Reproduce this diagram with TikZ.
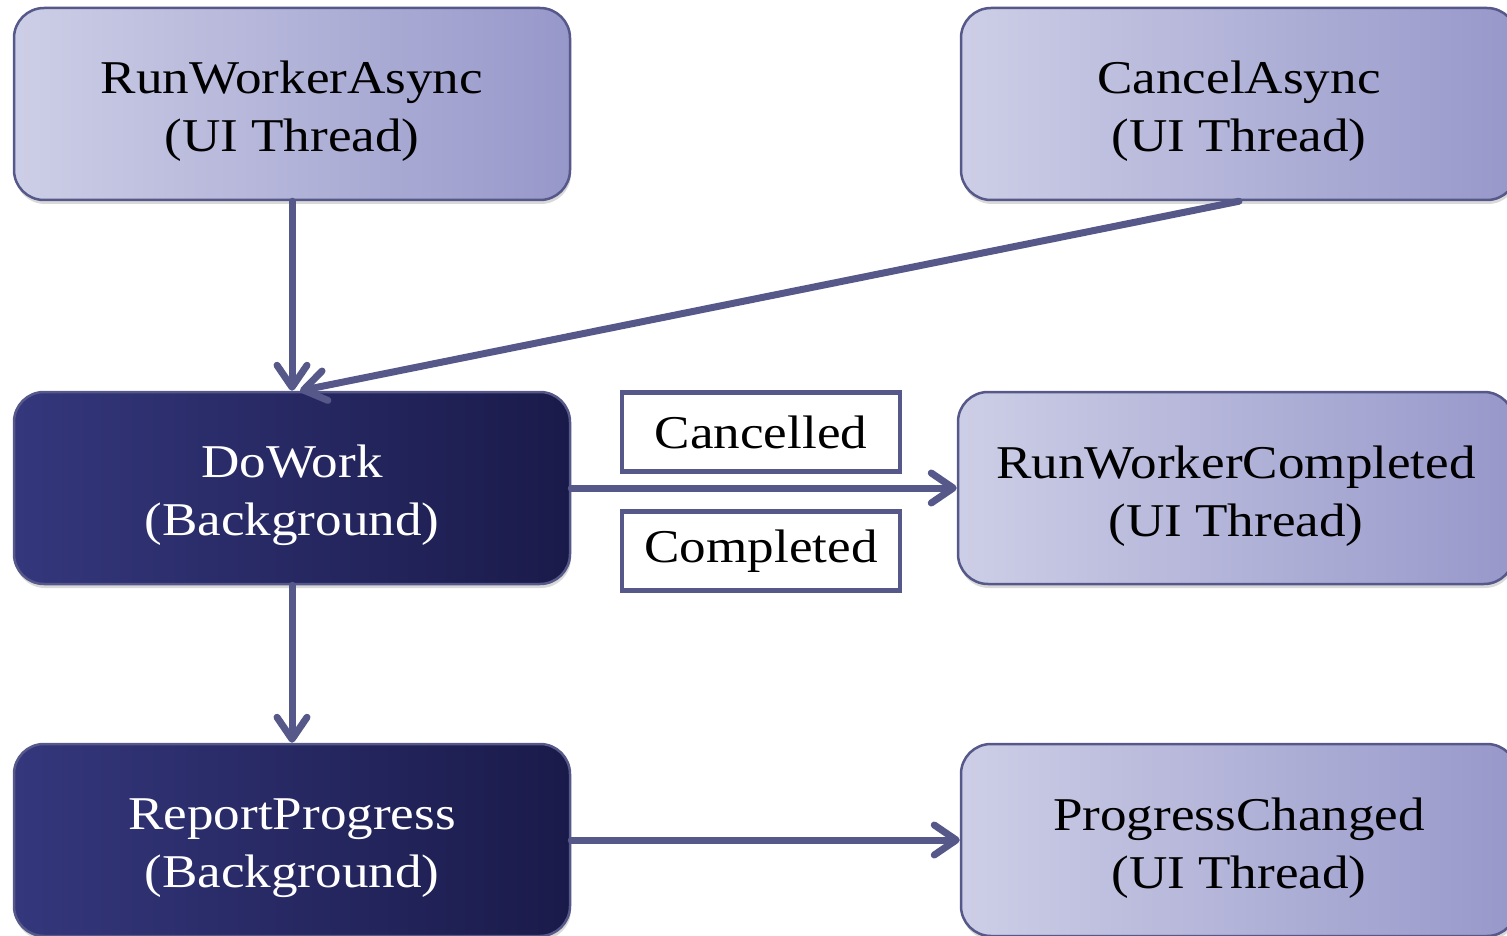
\documentclass[tikz,border=0pt]{standalone}
\usepackage{fontspec}
\setmainfont{Liberation Serif}[FakeStretch=1.13]
\usetikzlibrary{arrows.meta,shadows}
\newcommand\lowerstrut{\rule{0pt}{48pt}}
\definecolor{edgec}{HTML}{555889}
\definecolor{lightL}{HTML}{CDCEE6}
\definecolor{lightM}{HTML}{BEBFDD}
\definecolor{lightR}{HTML}{9798CA}
\definecolor{darkL}{HTML}{34377C}
\definecolor{darkM}{HTML}{2A2C68}
\definecolor{darkR}{HTML}{1A1A4A}
\tikzset{
  box/.style={rounded corners=30pt, draw=edgec, line width=2.5pt,
    minimum width=556pt, minimum height=192pt, align=center,
    font=\fontsize{47}{58}\selectfont,
    drop shadow={shadow xshift=1pt, shadow yshift=-4pt, opacity=0.3}},
  lightbox/.style={box, left color=lightL, middle color=lightM, right color=lightR, text=black},
  darkbox/.style={box, left color=darkL, middle color=darkM, right color=darkR, text=white},
  tagbox/.style={draw=edgec, line width=4.5pt, fill=white, minimum width=278pt,
    minimum height=79pt, font=\fontsize{47}{58}\selectfont},
  conn/.style={draw=edgec, line width=7pt, line cap=round,
    -{Straight Barb[length=22pt,width=30pt,round]}}
}
\begin{document}
\begin{tikzpicture}[x=1pt,y=-1pt]
\useasboundingbox (0,0) rectangle (1507,936);
\clip (0,0) rectangle (1507,936);
\node[lightbox] (rwa) at (292,104) {\lowerstrut RunWorkerAsync\\(UI Thread)};
\node[lightbox] (ca) at (1239,104) {\lowerstrut CancelAsync\\(UI Thread)};
\node[darkbox] (dw) at (292,488) {\lowerstrut DoWork\\(Background)};
\node[lightbox] (rwc) at (1236,488) {\lowerstrut RunWorkerCompleted\\(UI Thread)};
\node[darkbox] (rp) at (292,840) {\lowerstrut ReportProgress\\(Background)};
\node[lightbox] (pc) at (1239,840) {\lowerstrut ProgressChanged\\(UI Thread)};
\node[tagbox] (can) at (761,432) {Cancelled};
\node[tagbox] (com) at (761,551) {Completed};
\draw[conn] (rwa.south) -- (dw.north);
\draw[conn] (ca.south) -- ([xshift=8pt]dw.north);
\draw[conn] (dw.east) -- (rwc.west);
\draw[conn] (dw.south) -- (rp.north);
\draw[conn] (rp.east) -- (pc.west);
\end{tikzpicture}
\end{document}
